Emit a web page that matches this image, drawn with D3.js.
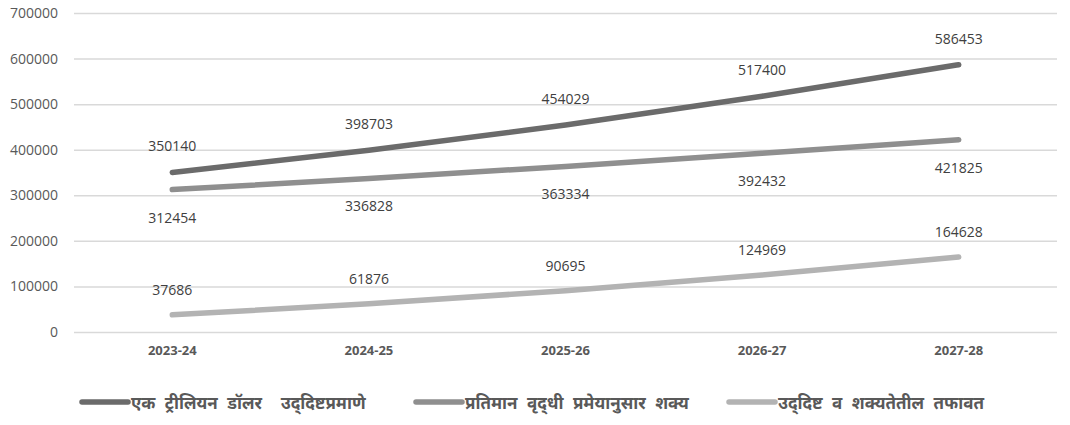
<!DOCTYPE html>
<html>
<head>
<meta charset="utf-8">
<script src="https://cdn.jsdelivr.net/npm/d3@7"></script>
<style>
  body { margin: 0; background: #fff; }
  text { font-family: "Open Sans", "Noto Sans", sans-serif; }
</style>
</head>
<body>
<div id="chart"></div>
<script>
const categories = ['2023-24', '2024-25', '2025-26', '2026-27', '2027-28'];
const seriesNames = [
  'एक ट्रीलियन डॉलर  उद्\u200Cदिष्टप्रमाणे',
  'प्रतिमान वृद्\u200Cधी प्रमेयानुसार शक्य',
  'उद्\u200Cदिष्ट व शक्यतेतील तफावत'
];
const targetValues = [350140, 398703, 454029, 517400, 586453];
const possibleValues = [312454, 336828, 363334, 392432, 421825];
const gapValues = [37686, 61876, 90695, 124969, 164628];
const yTicks = [0, 100000, 200000, 300000, 400000, 500000, 600000, 700000];

const width = 1070, height = 425;
const margin = { top: 13, right: 13, bottom: 93, left: 74 };

const series = [
  { name: seriesNames[0], values: targetValues, color: '#6b6b6b', labelDy: -26 },
  { name: seriesNames[1], values: possibleValues, color: '#8f8f8f', labelDy: 28 },
  { name: seriesNames[2], values: gapValues, color: '#b3b3b3', labelDy: -25 }
];

const svg = d3.select('#chart').append('svg')
  .attr('width', width)
  .attr('height', height);

const x = d3.scaleBand()
  .domain(categories)
  .range([margin.left, width - margin.right]);

const y = d3.scaleLinear()
  .domain([0, 700000])
  .range([height - margin.bottom, margin.top]);

// gridlines + y labels
const yAxis = svg.append('g')
  .attr('transform', `translate(${margin.left},0)`)
  .call(d3.axisLeft(y).tickValues(yTicks).tickSize(-(width - margin.left - margin.right)).tickPadding(16).tickFormat(d3.format('d')));
yAxis.select('.domain').remove();
yAxis.selectAll('.tick line').attr('stroke', '#d9d9d9').attr('stroke-width', 1.5);
yAxis.selectAll('.tick text').attr('fill', '#595959').style('font-size', '14px');

// x labels
const xAxis = svg.append('g')
  .attr('transform', `translate(0,${height - margin.bottom})`)
  .call(d3.axisBottom(x).tickSize(0).tickPadding(14));
xAxis.select('.domain').remove();
xAxis.selectAll('.tick text').attr('fill', '#595959').style('font-size', '13px').style('font-weight', 'bold');

const line = d3.line()
  .x((d, i) => x(categories[i]) + x.bandwidth() / 2)
  .y(d => y(d))
  .curve(d3.curveMonotoneX);

series.forEach(s => {
  svg.append('path')
    .datum(s.values)
    .attr('fill', 'none')
    .attr('stroke', s.color)
    .attr('stroke-width', 5.5)
    .attr('stroke-linecap', 'round')
    .attr('d', line);

  svg.append('g').selectAll('text')
    .data(s.values)
    .join('text')
    .attr('x', (d, i) => x(categories[i]) + x.bandwidth() / 2)
    .attr('y', d => y(d) + s.labelDy)
    .attr('dy', '0.35em')
    .attr('text-anchor', 'middle')
    .attr('fill', '#404040')
    .style('font-size', '14px')
    .text(d => d);
});

// legend
const legendX = [80, 414, 727];
const legend = svg.append('g').attr('transform', 'translate(0,403)');
series.forEach((s, i) => {
  const g = legend.append('g').attr('transform', `translate(${legendX[i]},0)`);
  g.append('line')
    .attr('x1', 2).attr('x2', 48)
    .attr('y1', -1).attr('y2', -1)
    .attr('stroke', s.color)
    .attr('stroke-width', 5.5)
    .attr('stroke-linecap', 'round');
  g.append('text')
    .attr('x', 51)
    .attr('dy', '0.35em')
    .attr('fill', '#595959')
    .style('font-size', '17px')
    .style('font-weight', 'bold')
    .style('word-spacing', '5px')
    .style('white-space', 'pre')
    .text(s.name);
});
</script>
</body>
</html>
